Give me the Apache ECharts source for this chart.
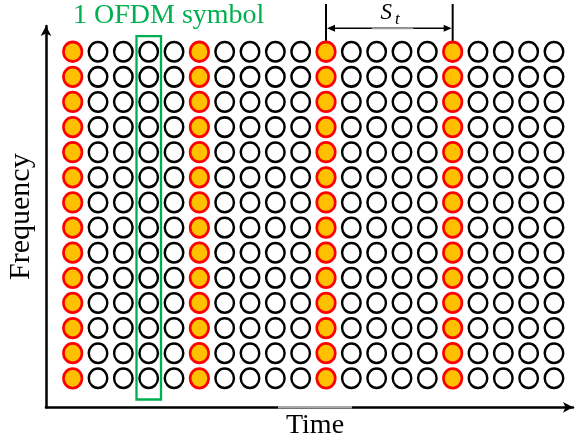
<!DOCTYPE html>
<html><head><meta charset="utf-8">
<script src="https://cdn.jsdelivr.net/npm/echarts@6/dist/echarts.min.js"></script>
<style>html,body{margin:0;padding:0;background:#fff}#c{width:578px;height:444px}</style>
</head><body><div id="c"></div>
<script>
// OFDM time-frequency resource grid
const timeSlots = [0,1,2,3,4,5,6,7,8,9,10,11,12,13,14,15,16,17,18,19];
const subcarriers = [0,1,2,3,4,5,6,7,8,9,10,11,12,13];
const pilotSlots = [0,5,10,15];
const highlightedSlot = 3;
const spacingFrom = 10;
const spacingTo = 15;
const xAxisName = 'Time';
const yAxisName = 'Frequency';
const symbolLabel = '1 OFDM symbol';
const spacingLabelMain = 'S';
const spacingLabelSub = 't';

const pilotData = [];
const dataData = [];
timeSlots.forEach(t => {
  subcarriers.forEach(f => {
    (pilotSlots.includes(t) ? pilotData : dataData).push([t, f]);
  });
});

const FONT = 'Liberation Serif';
const chart = echarts.init(document.getElementById('c'), null, {renderer: 'canvas'});
chart.setOption({
  animation: false,
  backgroundColor: '#fff',
  grid: {left: 46, right: 5, top: 26, bottom: 36.7, containLabel: false, outerBoundsMode: 'none'},
  xAxis: {
    type: 'value', min: -1.054, max: 19.75,
    name: xAxisName, nameLocation: 'middle', nameGap: 4,
    nameTextStyle: {fontFamily: FONT, fontSize: 28, color: '#000', padding: [0,0,0,11]},
    axisLine: {show: true, onZero: false, symbol: ['none','arrow'], symbolSize: [8,10], lineStyle: {color: '#000', width: 2.5}},
    axisTick: {show: false}, axisLabel: {show: false}, splitLine: {show: false}
  },
  yAxis: {
    type: 'value', min: -1.154, max: 14.025,
    name: yAxisName, nameLocation: 'middle', nameGap: 10, nameRotate: 90,
    nameTextStyle: {fontFamily: FONT, fontSize: 30, color: '#000'},
    axisLine: {show: true, onZero: false, symbol: ['none','arrow'], symbolSize: [8,10], lineStyle: {color: '#000', width: 2.5}},
    axisTick: {show: false}, axisLabel: {show: false}, splitLine: {show: false}
  },
  series: [
    {type: 'scatter', name: 'data', data: dataData, symbol: 'circle', symbolSize: [18.5,19.5],
     itemStyle: {color: '#fff', borderColor: '#000', borderWidth: 2.5, opacity: 1}, silent: true},
    {type: 'scatter', name: 'pilot', data: pilotData, symbol: 'circle', symbolSize: [18.5,19.5],
     itemStyle: {color: '#FFC000', borderColor: '#FF0000', borderWidth: 2.7, opacity: 1}, silent: true}
  ]
});

const toPx = (p) => chart.convertToPixel({gridIndex: 0}, p);
const topRow = subcarriers[subcarriers.length - 1];
const botRow = subcarriers[0];
const [hx, hTop] = toPx([highlightedSlot, topRow]);
const [, hBot] = toPx([highlightedSlot, botRow]);
const [xa, yTopRow] = toPx([spacingFrom, topRow]);
const [xb] = toPx([spacingTo, topRow]);
const [, xAxisY] = toPx([0, -1.154]);
const midSt = (xa + xb) / 2;
const arrowY = 28.3;

chart.setOption({
  graphic: [
    {type: 'rect', shape: {x: hx - 12.2, y: hTop - 15.7, width: 24.5, height: (hBot + 21.2) - (hTop - 15.7)},
     style: {fill: 'none', stroke: '#00B050', lineWidth: 2.3}, z: 20},
    {type: 'text', x: 73, y: 15.5, style: {text: symbolLabel, fontFamily: FONT, fontSize: 28, fill: '#00B050', textAlign: 'left', textVerticalAlign: 'middle'}, z: 20},
    {type: 'line', shape: {x1: xa, y1: 4, x2: xa, y2: yTopRow - 11}, style: {stroke: '#000', lineWidth: 2}, z: 20},
    {type: 'line', shape: {x1: xb, y1: 4, x2: xb, y2: yTopRow - 11}, style: {stroke: '#000', lineWidth: 2}, z: 20},
    {type: 'line', shape: {x1: xa + 4, y1: arrowY, x2: xb - 4, y2: arrowY}, style: {stroke: '#000', lineWidth: 1.6}, z: 20},
    {type: 'line', shape: {x1: midSt - 17.6, y1: arrowY, x2: midSt + 24, y2: arrowY}, style: {stroke: '#9a9a9a', lineWidth: 1.8}, z: 21},
    {type: 'polygon', shape: {points: [[xa + 1, arrowY], [xa + 9, arrowY - 3.5], [xa + 9, arrowY + 3.5]]}, style: {fill: '#000'}, z: 20},
    {type: 'polygon', shape: {points: [[xb - 1, arrowY], [xb - 9, arrowY - 3.5], [xb - 9, arrowY + 3.5]]}, style: {fill: '#000'}, z: 20},
    {type: 'text', x: midSt - 3, y: 13.2, style: {text: spacingLabelMain, fontFamily: FONT, fontStyle: 'italic', fontSize: 23, fill: '#000', textAlign: 'center', textVerticalAlign: 'middle'}, z: 20},
    {type: 'text', x: midSt + 8, y: 19.9, style: {text: spacingLabelSub, fontFamily: FONT, fontStyle: 'italic', fontSize: 17, fill: '#000', textAlign: 'center', textVerticalAlign: 'middle'}, z: 20},
    {type: 'line', shape: {x1: 278, y1: xAxisY, x2: 352, y2: xAxisY}, style: {stroke: '#a8a8a8', lineWidth: 2.6}, z: 20}
  ]
});
</script></body></html>
